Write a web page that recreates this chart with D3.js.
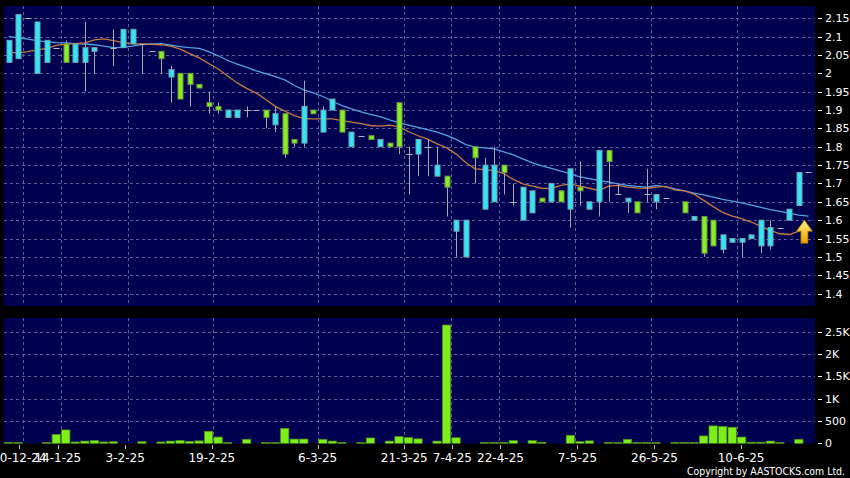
<!DOCTYPE html>
<html><head><meta charset="utf-8">
<script src="https://cdn.jsdelivr.net/npm/d3@7"></script>
<style>html,body{margin:0;padding:0;background:#000;}svg{display:block;}</style>
</head><body><svg id="c" width="850" height="478"></svg>
<script>
// ---- data (85 trading slots) ----
const opens  = [2.03,2.04,2.15,2.00,2.03,2.07,2.08,2.03,2.03,2.06,null,2.07,2.07,2.08,2.08,2.06,2.06,1.99,2.00,2.00,
                1.97,1.92,1.91,1.88,1.88,1.90,1.90,1.90,1.86,1.89,1.82,1.81,1.90,1.84,1.90,1.90,1.80,1.83,1.83,1.80,
                1.81,1.92,1.78,1.78,1.80,1.72,1.72,1.57,1.50,1.80,1.63,1.65,1.75,1.65,1.60,1.62,1.66,1.65,1.68,1.63,
                1.69,1.63,1.65,1.79,1.67,1.65,1.65,1.67,1.65,1.66,null,1.65,1.60,1.61,1.60,1.52,1.54,1.54,1.55,1.53,
                1.53,1.58,1.60,1.64,1.73];
const highs  = [2.09,2.16,2.15,2.14,2.09,2.07,2.09,2.08,2.14,2.07,null,2.12,2.12,2.12,2.08,2.06,2.06,2.02,2.00,2.00,
                1.97,1.95,1.92,1.90,1.90,1.91,1.90,1.90,1.91,1.89,1.82,1.98,1.90,1.91,1.93,1.90,1.84,1.83,1.83,1.82,
                1.81,1.92,1.80,1.82,1.82,1.80,1.72,1.60,1.60,1.80,1.77,1.80,1.75,1.70,1.69,1.68,1.66,1.70,1.68,1.74,
                1.76,1.65,1.79,1.79,1.70,1.66,1.65,1.74,1.67,1.66,null,1.65,1.61,1.61,1.60,1.56,1.55,1.55,1.56,1.60,
                1.60,1.58,1.63,1.73,1.73];
const lows   = [2.03,2.04,2.15,2.00,2.03,2.07,2.03,2.03,1.95,2.00,null,2.02,2.07,2.08,2.00,2.06,2.00,1.92,1.93,1.91,
                1.96,1.89,1.89,1.88,1.88,1.88,1.90,1.85,1.84,1.77,1.80,1.80,1.89,1.84,1.90,1.84,1.80,1.83,1.82,1.80,
                1.80,1.78,1.67,1.72,1.72,1.72,1.61,1.50,1.50,1.70,1.63,1.65,1.67,1.64,1.60,1.62,1.65,1.65,1.65,1.58,
                1.64,1.63,1.61,1.65,1.67,1.62,1.62,1.65,1.63,1.66,null,1.62,1.60,1.50,1.53,1.51,1.54,1.50,1.55,1.51,
                1.52,1.58,1.60,1.64,1.73];
const closes = [2.09,2.16,2.15,2.14,2.09,2.07,2.03,2.08,2.07,2.07,null,2.07,2.12,2.12,2.08,2.06,2.04,2.01,1.93,1.97,
                1.96,1.91,1.90,1.90,1.90,1.90,1.90,1.88,1.89,1.78,1.81,1.91,1.89,1.90,1.93,1.84,1.84,1.83,1.82,1.82,
                1.80,1.80,1.78,1.82,1.80,1.75,1.69,1.60,1.60,1.77,1.75,1.75,1.73,1.65,1.69,1.68,1.65,1.70,1.65,1.74,
                1.68,1.65,1.79,1.76,1.67,1.66,1.62,1.67,1.67,1.66,null,1.62,1.61,1.51,1.53,1.56,1.55,1.55,1.56,1.60,
                1.58,1.58,1.63,1.73,1.73];
const volumes = [20,20,0,0,20,200,300,30,50,60,30,35,0,0,35,0,30,50,65,45,
                 55,270,140,15,0,90,0,15,15,335,95,95,0,90,50,20,0,15,120,0,
                 50,150,130,100,0,50,2650,125,0,0,20,20,20,60,0,60,25,0,0,180,
                 40,55,0,20,15,90,15,15,15,0,20,20,20,165,390,380,360,140,25,25,
                 50,15,0,90,0];
const maLong = [2.100,2.097,2.093,2.089,2.086,2.084,2.083,2.081,2.080,2.078,2.074,2.070,2.071,2.074,2.079,2.080,2.081,2.077,2.073,2.070,
                2.068,2.059,2.048,2.035,2.025,2.016,2.007,1.999,1.991,1.982,1.967,1.955,1.947,1.937,1.924,1.912,1.903,1.895,1.888,1.882,
                1.873,1.865,1.859,1.853,1.847,1.840,1.831,1.820,1.806,1.799,1.797,1.794,1.786,1.778,1.767,1.756,1.748,1.741,1.734,1.726,
                1.718,1.713,1.708,1.704,1.699,1.695,1.692,1.690,1.695,1.691,1.685,1.680,1.674,1.669,1.663,1.657,1.652,1.647,1.641,1.635,
                1.629,1.624,1.619,1.614,1.611];
const maShort = [2.058,2.056,2.059,2.064,2.068,2.076,2.080,2.081,2.083,2.091,2.094,2.089,2.084,2.081,2.080,2.079,2.078,2.074,2.066,2.054,
                 2.042,2.027,2.012,1.993,1.974,1.959,1.946,1.929,1.910,1.897,1.885,1.877,1.876,1.876,1.876,1.871,1.867,1.863,1.858,1.856,
                 1.859,1.854,1.841,1.830,1.821,1.808,1.797,1.780,1.757,1.740,1.738,1.735,1.727,1.711,1.699,1.693,1.687,1.686,1.695,1.699,
                 1.693,1.687,1.681,1.693,1.695,1.690,1.688,1.687,1.690,1.692,1.682,1.680,1.671,1.654,1.637,1.621,1.611,1.604,1.595,1.583,
                 1.572,1.563,1.561,1.570,1.585];
const xLabels   = ["30-12-24","14-1-25","3-2-25","19-2-25","6-3-25","21-3-25","7-4-25","22-4-25","7-5-25","26-5-25","10-6-25"];
const xLabelIdx = [2,6,13,22,33,42,47,52,60,68,77];
const priceTicks  = [2.15,2.1,2.05,2.0,1.95,1.9,1.85,1.8,1.75,1.7,1.65,1.6,1.55,1.5,1.45,1.4];
const priceLabels = ["2.15","2.1","2.05","2","1.95","1.9","1.85","1.8","1.75","1.7","1.65","1.6","1.55","1.5","1.45","1.4"];
const volTicks  = [0,500,1000,1500,2000,2500];
const volLabels = ["0","500","1K","1.5K","2K","2.5K"];

// ---- drawing ----
const svg = d3.select("#c");
const N = closes.length;
const P = {x:4, y:6, w:811, h:300};
const V = {x:4, y:318, w:811, h:125.5};
const x = d3.scaleBand().domain(d3.range(N)).range([4, 813.2]).padding(0);
const xc = i => x(i) + x.bandwidth()/2;
const xLab = d3.scaleLinear().domain([0, 85]).range([0.09, 818.05]);
const y = d3.scaleLinear().domain([1.4, 2.15]).range([293.6, 18.3]);
const yv = d3.scaleLinear().domain([0, 2500]).range([443.3, 331.7]);

const COL = {panel:"#000050", grid:"#5e5e98", up:"#33e4f4", upS:"#6fa6b0", dn:"#88ee22", dnS:"#6c9c40",
             wick:"#a8a8a8", flat:"#b8b8b8", maL:"#4fa4e4", maS:"#c87844", vol:"#7cee18", volS:"#4e8a1c", txt:"#ffffff"};

svg.append("rect").attr("width",850).attr("height",478).attr("fill","#000");
svg.append("rect").attr("x",P.x).attr("y",P.y).attr("width",P.w).attr("height",P.h).attr("fill",COL.panel);
svg.append("rect").attr("x",V.x).attr("y",V.y).attr("width",V.w).attr("height",V.h).attr("fill",COL.panel);

const grid = svg.append("g").attr("stroke",COL.grid).attr("stroke-width",1).attr("stroke-dasharray","3,3");
grid.selectAll(".hp").data(priceTicks).join("line")
  .attr("x1",P.x).attr("x2",P.x+P.w).attr("y1",d=>Math.round(y(d))+0.5).attr("y2",d=>Math.round(y(d))+0.5);
grid.selectAll(".hv").data(volTicks.filter(d=>d>0)).join("line").attr("class","hv")
  .attr("x1",V.x).attr("x2",V.x+V.w).attr("y1",d=>Math.round(yv(d))+0.5).attr("y2",d=>Math.round(yv(d))+0.5);
grid.selectAll(".vp").data(xLabelIdx).join("line").attr("class","vp")
  .attr("x1",d=>Math.round(x(d))+0.5).attr("x2",d=>Math.round(x(d))+0.5).attr("y1",P.y).attr("y2",P.y+P.h);
grid.selectAll(".vv").data(xLabelIdx).join("line").attr("class","vv")
  .attr("x1",d=>Math.round(x(d))+0.5).attr("x2",d=>Math.round(x(d))+0.5).attr("y1",V.y).attr("y2",V.y+V.h);

// moving averages
const line = d3.line().x((d,i)=>xc(i)).y(d=>y(d));
const clipP = svg.append("clipPath").attr("id","cp").append("rect").attr("x",P.x).attr("y",P.y).attr("width",P.w).attr("height",P.h);
const gP = svg.append("g").attr("clip-path","url(#cp)");
gP.append("path").datum(maLong).attr("d",line).attr("fill","none").attr("stroke",COL.maL).attr("stroke-width",1.3);
gP.append("path").datum(maShort).attr("d",line).attr("fill","none").attr("stroke",COL.maS).attr("stroke-width",1.3);

// candles
const idx = d3.range(N).filter(i=>closes[i]!==null);
const cg = gP.append("g");
cg.selectAll(".wk").data(idx).join("line")
  .attr("x1",i=>Math.round(xc(i))+0.5).attr("x2",i=>Math.round(xc(i))+0.5)
  .attr("y1",i=>y(highs[i])).attr("y2",i=>y(lows[i]))
  .attr("stroke",COL.wick).attr("stroke-width",1);
const bodies = idx.filter(i=>closes[i]!==opens[i]);
cg.selectAll(".bd").data(bodies).join("rect")
  .attr("x",i=>Math.round(xc(i))-2)
  .attr("width",5)
  .attr("y",i=>y(Math.max(opens[i],closes[i])))
  .attr("height",i=>Math.max(1,Math.abs(y(opens[i])-y(closes[i]))))
  .attr("fill",i=>closes[i]>opens[i]?COL.up:COL.dn)
  .attr("stroke",i=>closes[i]>opens[i]?COL.upS:COL.dnS).attr("stroke-width",1);
const flats = idx.filter(i=>closes[i]===opens[i]);
cg.selectAll(".fl").data(flats).join("line")
  .attr("x1",i=>Math.round(xc(i))-2.5).attr("x2",i=>Math.round(xc(i))+3.5)
  .attr("y1",i=>Math.round(y(closes[i]))+0.5).attr("y2",i=>Math.round(y(closes[i]))+0.5)
  .attr("stroke",COL.flat).attr("stroke-width",1);

// arrow signal
const defs = svg.append("defs");
const gr = defs.append("linearGradient").attr("id","ag").attr("x1",0).attr("x2",0).attr("y1",0).attr("y2",1);
gr.append("stop").attr("offset","0%").attr("stop-color","#fff27a");
gr.append("stop").attr("offset","100%").attr("stop-color","#e4a200");
const ax = xc(84) - 4, ay = y(1.60);
svg.append("path")
  .attr("d",`M${ax},${ay} L${ax+8},${ay+11} L${ax+3.5},${ay+11} L${ax+3.5},${ay+23} L${ax-3.5},${ay+23} L${ax-3.5},${ay+11} L${ax-8},${ay+11} Z`)
  .attr("fill","url(#ag)").attr("stroke","#a87400").attr("stroke-width",0.8);

// volume
svg.append("g").selectAll("rect").data(d3.range(N).filter(i=>volumes[i]>0)).join("rect")
  .attr("x",i=>x(i)+0.5).attr("width",x.bandwidth()-1.2)
  .attr("y",i=>yv(volumes[i])).attr("height",i=>Math.max(0.8,yv(0)-yv(volumes[i])))
  .attr("fill",COL.vol).attr("stroke",COL.volS).attr("stroke-width",0.7);

// axes text
const font = "DejaVu Sans, Verdana, sans-serif";
const ya = svg.append("g");
ya.selectAll("line").data(priceTicks).join("line")
  .attr("x1",818).attr("x2",822).attr("y1",d=>Math.round(y(d))+0.5).attr("y2",d=>Math.round(y(d))+0.5)
  .attr("stroke",COL.txt);
ya.selectAll("text").data(priceTicks).join("text")
  .attr("x",825).attr("y",d=>y(d)).attr("dy","0.36em")
  .attr("fill",COL.txt).attr("font-family",font).attr("font-size",11)
  .text((d,i)=>priceLabels[i]);
const va = svg.append("g");
va.selectAll("line").data(volTicks).join("line")
  .attr("x1",818).attr("x2",822).attr("y1",d=>Math.round(yv(d))+0.5).attr("y2",d=>Math.round(yv(d))+0.5)
  .attr("stroke",COL.txt);
va.selectAll("text").data(volTicks).join("text")
  .attr("x",825).attr("y",d=>yv(d)).attr("dy","0.36em")
  .attr("fill",COL.txt).attr("font-family",font).attr("font-size",11)
  .text((d,i)=>volLabels[i]);
const xa = svg.append("g");
xa.selectAll("line").data(xLabelIdx).join("line")
  .attr("x1",d=>Math.round(xLab(d))+0.5).attr("x2",d=>Math.round(xLab(d))+0.5)
  .attr("y1",445).attr("y2",449).attr("stroke","#bbbbbb");
xa.selectAll("text").data(xLabelIdx).join("text")
  .attr("x",d=>xLab(d)).attr("y",461.5).attr("text-anchor","middle")
  .attr("fill",COL.txt).attr("font-family",font).attr("font-size",12)
  .text((d,i)=>xLabels[i]);
svg.append("text").attr("x",845).attr("y",474.5).attr("text-anchor","end")
  .attr("fill",COL.txt).attr("font-family",font).attr("font-size",11)
  .attr("textLength",158).attr("lengthAdjust","spacingAndGlyphs")
  .text("Copyright by AASTOCKS.com Ltd.");
</script>
</body></html>
